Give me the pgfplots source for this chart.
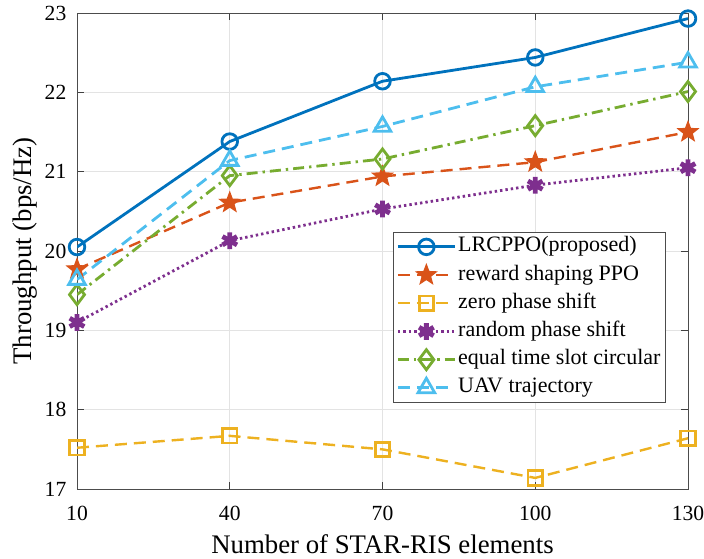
\documentclass[border=0pt]{standalone}
\usepackage{pgfplots}
\pgfplotsset{compat=1.18}
\usepackage{fontspec}
\setmainfont{Liberation Serif}
\definecolor{c1}{rgb}{0,0.447,0.741}
\definecolor{c2}{rgb}{0.85,0.325,0.098}
\definecolor{c3}{rgb}{0.929,0.694,0.125}
\definecolor{c4}{rgb}{0.494,0.184,0.556}
\definecolor{c5}{rgb}{0.466,0.674,0.188}
\definecolor{c6}{rgb}{0.301,0.745,0.933}
\pgfdeclareplotmark{fstar}{%
  \pgfpathmoveto{\pgfpointpolar{90}{\pgfplotmarksize}}%
  \pgfpathlineto{\pgfpointpolar{126}{0.42\pgfplotmarksize}}%
  \pgfpathlineto{\pgfpointpolar{162}{\pgfplotmarksize}}%
  \pgfpathlineto{\pgfpointpolar{198}{0.42\pgfplotmarksize}}%
  \pgfpathlineto{\pgfpointpolar{234}{\pgfplotmarksize}}%
  \pgfpathlineto{\pgfpointpolar{270}{0.42\pgfplotmarksize}}%
  \pgfpathlineto{\pgfpointpolar{306}{\pgfplotmarksize}}%
  \pgfpathlineto{\pgfpointpolar{342}{0.42\pgfplotmarksize}}%
  \pgfpathlineto{\pgfpointpolar{18}{\pgfplotmarksize}}%
  \pgfpathlineto{\pgfpointpolar{54}{0.42\pgfplotmarksize}}%
  \pgfpathclose
  \pgfusepathqfillstroke
}
\begin{document}
\begin{tikzpicture}
\useasboundingbox (-38.5pt,-34.5pt) rectangle (313.5pt,244.5pt);
\begin{axis}[
  at={(0,0)}, anchor=south west,
  scale only axis,
  width=305.5pt, height=238pt,
  xmin=10, xmax=130, ymin=17, ymax=23,
  xtick={10,40,70,100,130},
  ytick={17,18,19,20,21,22,23},
  tick align=inside,
  tick style={black!75, thin},
  major tick length=3.5pt,
  grid=major,
  grid style={gray!22, line width=0.4pt},
  axis line style={black!70, line width=0.5pt},
  ticklabel style={font=\fontsize{10.8}{12}\selectfont},
  xticklabel style={yshift=-5pt},
  yticklabel style={xshift=-1.8pt},
  /pgf/number format/assume math mode=true,
  xlabel={Number of STAR-RIS elements},
  ylabel={Throughput (bps/Hz)},
  label style={font=\fontsize{13.4}{15}\selectfont},
  xlabel style={at={(axis description cs:0.5,-0.1345)}, anchor=base},
  ylabel style={at={(axis description cs:-0.085,0.5)}, anchor=center, rotate=0},
  legend style={at={(0.5172,0.54)}, anchor=north west, font=\fontsize{11}{12}\selectfont, draw=black!70, line width=0.5pt, inner sep=1.5pt, row sep=2.7pt,
    nodes={inner sep=1pt, text height=0.72em, text depth=0.22em}},
  legend cell align=left,
  legend image code/.code={\draw[mark repeat=2,mark phase=2] plot coordinates {(0cm,0cm) (0.5cm,0cm) (1cm,0cm)};},
]
\addplot[c1, line width=1.4pt, mark=o, mark size=3.9pt, mark options={solid, line width=1.4pt}] coordinates {(10,20.05) (40,21.38) (70,22.14) (100,22.44) (130,22.93)};
\addlegendentry{LRCPPO(proposed)}
\addplot[c2, line width=1.2pt, dash pattern=on 6pt off 3.5pt, mark=fstar, mark size=5.2pt, mark options={solid, fill=c2, line width=0.6pt}] coordinates {(10,19.77) (40,20.61) (70,20.94) (100,21.12) (130,21.50)};
\addlegendentry{reward shaping PPO}
\addplot[c3, line width=1.2pt, dash pattern=on 6pt off 3.5pt, mark=square, mark size=3.6pt, mark options={solid, line width=1.4pt}] coordinates {(10,17.52) (40,17.67) (70,17.50) (100,17.14) (130,17.64)};
\addlegendentry{zero phase shift}
\addplot[c4, line width=1.4pt, dash pattern=on 1.2pt off 1.5pt, mark=asterisk, mark size=4.2pt, mark options={solid, line width=2.4pt}] coordinates {(10,19.10) (40,20.13) (70,20.53) (100,20.83) (130,21.05)};
\addlegendentry{random phase shift}
\addplot[c5, line width=1.4pt, dash pattern=on 5.5pt off 2.5pt on 1.2pt off 2.5pt, mark=diamond, mark size=5pt, mark options={solid, line width=1.4pt}] coordinates {(10,19.45) (40,20.95) (70,21.16) (100,21.58) (130,22.01)};
\addlegendentry{equal time slot circular\hspace{5pt}}
\addplot[c6, line width=1.4pt, dash pattern=on 6pt off 3.5pt, mark=triangle, mark size=4.8pt, mark options={solid, line width=1.4pt}] coordinates {(10,19.64) (40,21.14) (70,21.57) (100,22.07) (130,22.38)};
\addlegendentry{UAV trajectory}
\end{axis}
\end{tikzpicture}
\end{document}
